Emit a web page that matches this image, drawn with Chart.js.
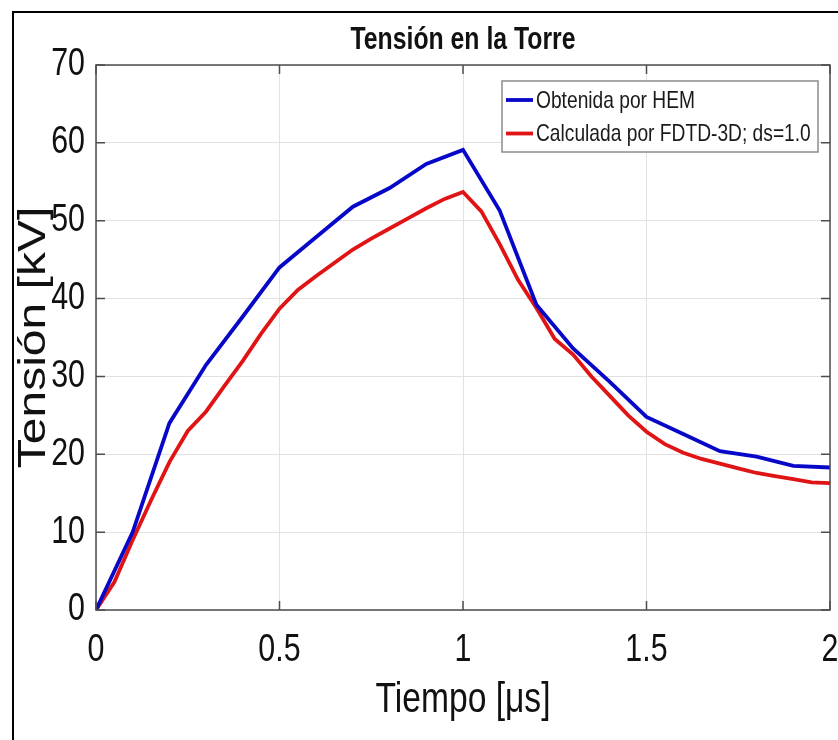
<!DOCTYPE html>
<html>
<head>
<meta charset="utf-8">
<script src="https://cdn.jsdelivr.net/npm/chart.js@4.4.1/dist/chart.umd.min.js"></script>
<style>
  html, body { margin: 0; padding: 0; background: #ffffff; }
  #wrap { width: 838px; height: 740px; position: relative; }
</style>
</head>
<body>
<div id="wrap"><canvas id="chart" width="838" height="740"></canvas></div>
<script>
// Tower voltage: HEM result vs FDTD-3D calculation
const chartTitle = 'Tensión en la Torre';
const xTitle = 'Tiempo [μs]';
const yTitle = 'Tensión [kV]';

const hemLabel = 'Obtenida por HEM';
const hemTime = [0, 0.1, 0.2, 0.3, 0.4, 0.5, 0.6, 0.7, 0.8, 0.9, 1.0,
                 1.1, 1.2, 1.3, 1.4, 1.5, 1.6, 1.7, 1.8, 1.9, 2.0];
const hemVolt = [0, 10.0, 24.0, 31.5, 37.7, 44.0, 47.9, 51.8, 54.2, 57.3, 59.1,
                 51.3, 39.2, 33.6, 29.3, 24.8, 22.6, 20.4, 19.7, 18.5, 18.3];

const fdtdLabel = 'Calculada por FDTD-3D; ds=1.0';
const fdtdTime = [0, 0.05, 0.1, 0.15, 0.2, 0.25, 0.3, 0.35, 0.4, 0.45, 0.5,
                  0.55, 0.6, 0.65, 0.7, 0.75, 0.8, 0.85, 0.9, 0.95, 1.0,
                  1.05, 1.1, 1.15, 1.2, 1.25, 1.3, 1.35, 1.4, 1.45, 1.5,
                  1.55, 1.6, 1.65, 1.7, 1.75, 1.8, 1.85, 1.9, 1.95, 2.0];
const fdtdVolt = [0, 3.6, 9.0, 14.1, 19.0, 23.0, 25.5, 28.8, 32.0, 35.5, 38.7,
                  41.1, 42.9, 44.6, 46.3, 47.7, 49.0, 50.3, 51.6, 52.8, 53.7,
                  51.2, 47.0, 42.4, 38.8, 34.8, 32.8, 30.0, 27.5, 25.0, 22.9,
                  21.3, 20.2, 19.4, 18.8, 18.2, 17.6, 17.2, 16.8, 16.4, 16.3];

const xTicks = [0, 0.5, 1, 1.5, 2];
const yTicks = [0, 10, 20, 30, 40, 50, 60, 70];

const FONT = "'Liberation Sans', Arial, sans-serif";
// Horizontal squeeze applied to all text (screen x direction)
const CONDENSE = 0.8;

const toPoints = (xs, ys) => xs.map((x, i) => ({ x: x, y: ys[i] }));

// Draw every label with glyphs squeezed along the screen x axis around their anchor
const condensedTextPlugin = {
  id: 'condensedText',
  beforeInit(chart) {
    const ctx = chart.ctx;
    if (ctx.__condensed) return;
    ctx.__condensed = true;
    const fill = ctx.fillText.bind(ctx);
    const measure = ctx.measureText.bind(ctx);
    ctx.fillText = function (text, x, y) {
      const m = ctx.getTransform();
      const p = m.transformPoint(new DOMPoint(x, y));
      ctx.save();
      ctx.setTransform(
        new DOMMatrix().translate(p.x, p.y).scale(CONDENSE, 1).translate(-p.x, -p.y).multiply(m)
      );
      fill(text, x, y);
      ctx.restore();
    };
    ctx.measureText = function (text) {
      const mt = measure(text);
      return {
        width: mt.width * CONDENSE,
        actualBoundingBoxAscent: mt.actualBoundingBoxAscent,
        actualBoundingBoxDescent: mt.actualBoundingBoxDescent,
        actualBoundingBoxLeft: mt.actualBoundingBoxLeft * CONDENSE,
        actualBoundingBoxRight: mt.actualBoundingBoxRight * CONDENSE
      };
    };
  }
};

// Outer figure frame (left and top edges visible)
const framePlugin = {
  id: 'frame',
  beforeDraw(chart) {
    const ctx = chart.ctx;
    ctx.save();
    ctx.fillStyle = '#ffffff';
    ctx.fillRect(0, 0, chart.width, chart.height);
    ctx.strokeStyle = '#000000';
    ctx.lineWidth = 2;
    ctx.beginPath();
    ctx.moveTo(13, chart.height + 5);
    ctx.lineTo(13, 12);
    ctx.lineTo(chart.width + 5, 12);
    ctx.stroke();
    ctx.restore();
  }
};

// Axes box with inward tick marks on all four sides
const boxPlugin = {
  id: 'axesBox',
  afterDatasetsDraw(chart) {
    const { ctx, chartArea: a, scales } = chart;
    const len = 9;
    ctx.save();
    ctx.strokeStyle = '#4d4d4d';
    ctx.lineWidth = 1.5;
    ctx.strokeRect(a.left, a.top, a.right - a.left, a.bottom - a.top);
    ctx.beginPath();
    xTicks.forEach(v => {
      const px = scales.x.getPixelForValue(v);
      ctx.moveTo(px, a.bottom); ctx.lineTo(px, a.bottom - len);
      ctx.moveTo(px, a.top); ctx.lineTo(px, a.top + len);
    });
    yTicks.forEach(v => {
      const py = scales.y.getPixelForValue(v);
      ctx.moveTo(a.left, py); ctx.lineTo(a.left + len, py);
      ctx.moveTo(a.right, py); ctx.lineTo(a.right - len, py);
    });
    ctx.stroke();
    ctx.restore();
  }
};

// Boxed legend in the upper-right corner of the axes
const legendBoxPlugin = {
  id: 'legendBox',
  afterDraw(chart) {
    const ctx = chart.ctx;
    const a = chart.chartArea;
    const left = a.right - 328, top = a.top + 16, w = 316, h = 71;
    ctx.save();
    ctx.fillStyle = '#ffffff';
    ctx.fillRect(left, top, w, h);
    ctx.strokeStyle = '#8c8c8c';
    ctx.lineWidth = 1.5;
    ctx.strokeRect(left, top, w, h);
    ctx.font = '24px ' + FONT;
    ctx.textBaseline = 'middle';
    ctx.textAlign = 'left';
    chart.data.datasets.forEach((ds, i) => {
      const y = top + 19 + i * 33.5;
      ctx.strokeStyle = ds.borderColor;
      ctx.lineWidth = 3.8;
      ctx.beginPath();
      ctx.moveTo(left + 4, y);
      ctx.lineTo(left + 31, y);
      ctx.stroke();
      ctx.fillStyle = '#1a1a1a';
      ctx.fillText(ds.label, left + 34, y + 1);
    });
    ctx.restore();
  }
};

new Chart(document.getElementById('chart'), {
  type: 'line',
  data: {
    datasets: [
      {
        label: hemLabel,
        data: toPoints(hemTime, hemVolt),
        borderColor: '#0707c8',
        borderWidth: 3.8,
        pointRadius: 0,
        fill: false,
        tension: 0
      },
      {
        label: fdtdLabel,
        data: toPoints(fdtdTime, fdtdVolt),
        borderColor: '#e01414',
        borderWidth: 3.8,
        pointRadius: 0,
        fill: false,
        tension: 0
      }
    ]
  },
  options: {
    responsive: false,
    animation: false,
    events: [],
    layout: { padding: { left: 0, right: 8, top: 0, bottom: 0 } },
    plugins: {
      legend: { display: false },
      tooltip: { enabled: false },
      title: {
        display: true,
        fullSize: false,
        text: chartTitle,
        color: '#111111',
        font: { family: FONT, size: 31, weight: 'bold', lineHeight: 1.2 },
        padding: { top: 21.4, bottom: 6.4 }
      }
    },
    scales: {
      x: {
        type: 'linear',
        min: 0,
        max: 2,
        afterFit(scale) {
          scale.height = 130;
          scale.paddingLeft = 0;
          scale.paddingRight = 0;
        },
        afterBuildTicks(scale) { scale.ticks = xTicks.map(v => ({ value: v })); },
        grid: { color: '#e2e2e2', lineWidth: 1, drawTicks: false },
        border: { display: false },
        ticks: {
          color: '#111111',
          padding: 18,
          maxRotation: 0,
          callback: v => String(v),
          font: { family: FONT, size: 38 }
        },
        title: {
          display: true,
          text: xTitle,
          color: '#111111',
          font: { family: FONT, size: 42, lineHeight: 1.2 },
          padding: { top: 0, bottom: 14 }
        }
      },
      y: {
        type: 'linear',
        min: 0,
        max: 70,
        afterFit(scale) {
          scale.width = 96;
          scale.paddingTop = 0;
          scale.paddingBottom = 0;
        },
        afterBuildTicks(scale) { scale.ticks = yTicks.map(v => ({ value: v })); },
        grid: { color: '#e2e2e2', lineWidth: 1, drawTicks: false },
        border: { display: false },
        ticks: {
          color: '#111111',
          padding: 11,
          callback: v => String(v),
          font: { family: FONT, size: 38 }
        },
        title: {
          display: true,
          text: yTitle,
          color: '#111111',
          font: { family: FONT, size: 48, lineHeight: 1.2 },
          padding: { top: 6, bottom: 0 }
        }
      }
    }
  },
  plugins: [condensedTextPlugin, framePlugin, boxPlugin, legendBoxPlugin]
});
</script>
</body>
</html>
